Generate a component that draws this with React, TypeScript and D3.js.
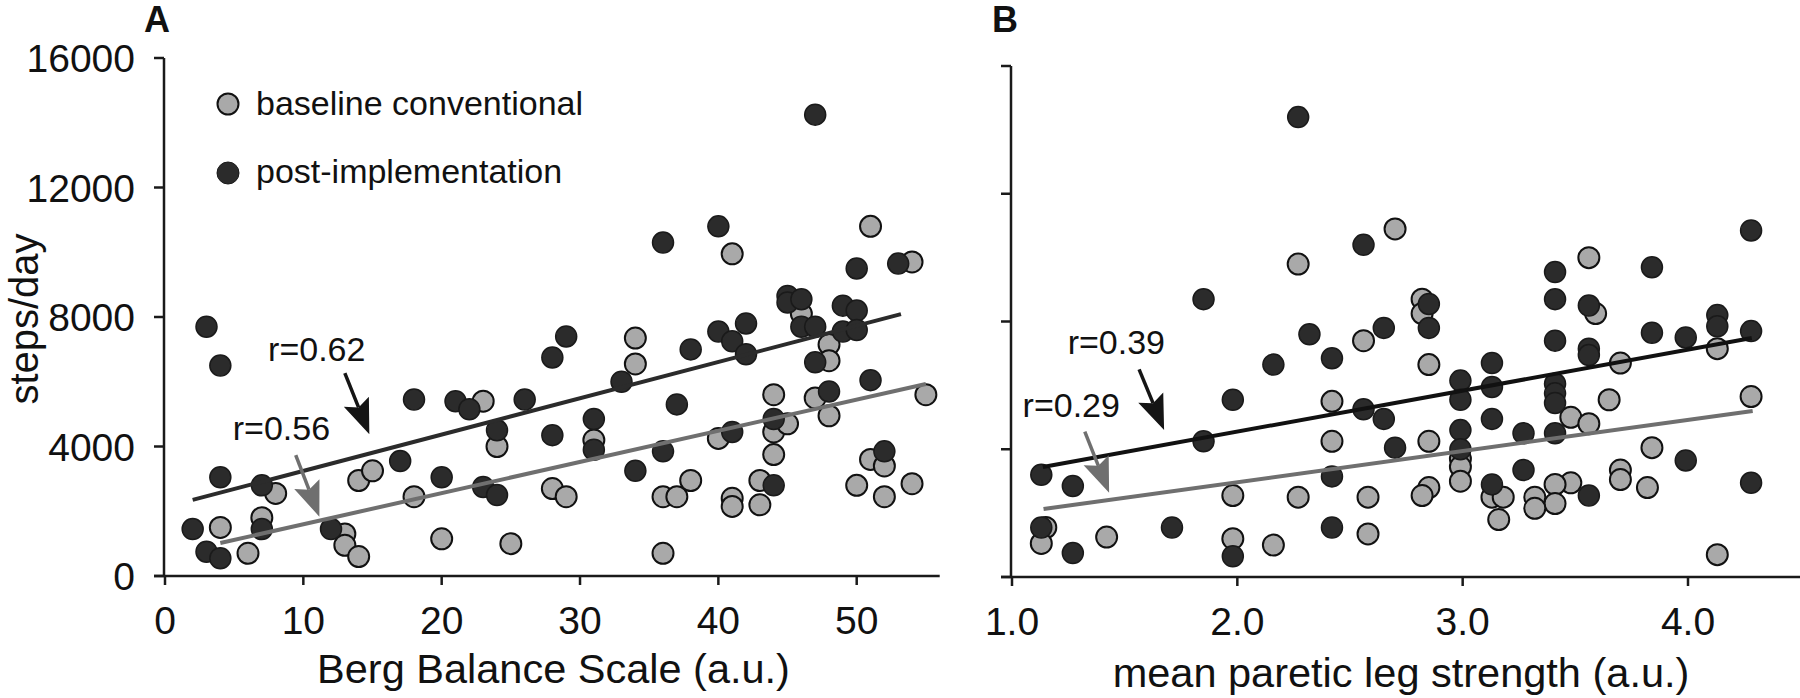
import React from 'react';
import * as d3 from 'd3';

// ---------- DATA ----------
// Panel A: Berg Balance Scale (a.u.) vs steps/day
const bergBaseline: [number, number][] = [
  [23, 5400], [24, 4000], [8, 2550], [14, 2950], [15, 3250], [18, 2450], [28, 2700], [4, 1500],
  [7, 1800], [6, 700], [13, 1300], [13, 950], [14, 600], [20, 1150], [25, 1000],
  [46, 8100], [54, 9700], [51, 10800], [48, 7150], [48, 6650], [55, 5600], [44, 5600], [47, 5500],
  [48, 4950], [44, 4450], [45, 4700], [44, 3750], [40, 4250], [34, 7350], [34, 6550], [41, 9950],
  [31, 4200], [29, 2450], [36, 2450], [37, 2450], [38, 2950], [41, 2400], [41, 2150], [43, 2950],
  [43, 2200], [36, 700], [51, 3600], [52, 3400], [50, 2800], [52, 2450], [54, 2850],
];
const bergPost: [number, number][] = [
  [3, 7700], [4, 6500], [18, 5450], [21, 5400], [22, 5150], [26, 5450], [28, 6750], [24, 4500],
  [28, 4350], [4, 3050], [7, 2800], [17, 3550], [20, 3050], [23, 2750], [24, 2500], [2, 1450],
  [7, 1450], [3, 750], [4, 550], [12, 1450],
  [29, 7400], [33, 6000], [31, 4850], [31, 3900], [36, 10300], [40, 10800], [38, 7000], [40, 7550],
  [41, 7250], [42, 7800], [42, 6850], [37, 5300], [36, 3850], [34, 3250], [41, 4450], [45, 8650],
  [45, 8450], [46, 8550], [46, 7700], [47, 7700], [49, 8350], [50, 8200], [49, 7550], [50, 7600],
  [50, 9500], [53, 9650], [47, 6600], [51, 6050], [48, 5700], [44, 4850], [44, 2800], [52, 3850],
  [47, 14250],
];
const bergFitPost: [number, number][] = [[2, 2350], [53.2, 8090]];
const bergFitBaseline: [number, number][] = [[4, 1020], [55, 5930]];

// Panel B: mean paretic leg strength (a.u.) vs steps/day
const legBaseline: [number, number][] = [
  [2.70, 10900], [2.27, 9800], [2.56, 7400], [2.42, 5500], [2.42, 4250], [1.98, 2550], [2.27, 2500],
  [2.58, 2500], [1.15, 1550], [1.13, 1050], [1.42, 1250], [1.98, 1200], [2.16, 1000], [2.58, 1350],
  [3.56, 10000], [2.82, 8700], [2.82, 8250], [3.59, 8250], [4.13, 7150], [3.70, 6700], [2.85, 6650],
  [3.65, 5550], [4.28, 5650], [3.48, 5000], [3.56, 4800], [2.85, 4250], [2.99, 3700], [2.99, 3450],
  [2.99, 3000], [2.85, 2800], [2.82, 2550], [3.84, 4050], [3.70, 3350], [3.70, 3050], [3.82, 2800],
  [3.48, 2950], [3.41, 2900], [3.41, 2300], [3.32, 2500], [3.32, 2150], [3.13, 2500], [3.18, 2500],
  [3.16, 1800], [4.13, 700],
];
const legPost: [number, number][] = [
  [1.85, 8700], [2.56, 10400], [2.32, 7600], [2.65, 7800], [2.42, 6850], [2.16, 6650], [1.98, 5550],
  [2.56, 5250], [2.65, 4950], [1.85, 4250], [2.70, 4050], [1.13, 3200], [1.27, 2850], [2.42, 3150],
  [1.13, 1550], [1.27, 750], [1.71, 1550], [1.98, 650], [2.42, 1550], [2.27, 14400],
  [4.28, 10850], [3.84, 9700], [3.41, 9550], [3.41, 8700], [3.56, 8500], [2.85, 8550], [2.85, 7800],
  [3.41, 7400], [3.84, 7650], [3.99, 7500], [4.13, 8200], [4.13, 7850], [4.28, 7700], [3.56, 7150],
  [3.56, 6950], [3.13, 6700], [2.99, 6150], [3.13, 5950], [2.99, 5550], [3.41, 6050], [3.41, 5750],
  [3.41, 5450], [3.13, 4950], [2.99, 4600], [3.27, 4500], [3.41, 4500], [2.99, 4000], [3.27, 3350],
  [3.99, 3650], [4.28, 2950], [3.13, 2900], [3.56, 2550],
];
const legFitPost: [number, number][] = [[1.137, 3444], [4.283, 7483]];
const legFitBaseline: [number, number][] = [[1.14, 2129], [4.287, 5198]];

// Tick values and labels
const yTickValues = [0, 4000, 8000, 12000, 16000];
const yTickLabels = ['0', '4000', '8000', '12000', '16000'];
const bergTickValues = [0, 10, 20, 30, 40, 50];
const bergTickLabels = ['0', '10', '20', '30', '40', '50'];
const legTickValues = [1, 2, 3, 4];
const legTickLabels = ['1.0', '2.0', '3.0', '4.0'];

// Correlation annotations: label anchor, arrow start, arrow tip (data units)
const bergAnnotations = [
  { text: 'r=0.62', label: [7.45, 6639], from: [13.0, 6269], to: [14.77, 4376], dark: true },
  { text: 'r=0.56', label: [4.9, 4200], from: [9.45, 3736], to: [11.16, 1831], dark: false },
];
const legAnnotations = [
  { text: 'r=0.39', label: [1.247, 6982], from: [1.564, 6503], to: [1.675, 4603], dark: true },
  { text: 'r=0.29', label: [1.047, 5019], from: [1.323, 4549], to: [1.431, 2639], dark: false },
];

const legendItems = ['baseline conventional', 'post-implementation'];

// ---------- STYLE ----------
const FONT = '"Liberation Sans", Arial, Helvetica, sans-serif';
const GRAY_FILL = '#a9a9a9';
const DARK_FILL = '#2b2b2b';
const OUTLINE = '#111';
const AXIS = '#1a1a1a';
const R = 10.5;

function Arrow({ x1, y1, x2, y2, color }: { x1: number; y1: number; x2: number; y2: number; color: string }) {
  const dx = x2 - x1, dy = y2 - y1;
  const len = Math.hypot(dx, dy);
  const ux = dx / len, uy = dy / len;
  const headLen = 35, halfW = 13.5;
  const bx = x2 - ux * headLen, by = y2 - uy * headLen;
  const px = -uy, py = ux;
  const notch = 6;
  const nx = bx + ux * notch, ny = by + uy * notch;
  return (
    <g>
      <line x1={x1} y1={y1} x2={nx} y2={ny} stroke={color} strokeWidth={3.5} />
      <path
        d={`M${x2},${y2} L${bx + px * halfW},${by + py * halfW} L${nx},${ny} L${bx - px * halfW},${by - py * halfW} Z`}
        fill={color}
      />
    </g>
  );
}

type PanelProps = {
  x: d3.ScaleLinear<number, number>;
  y: d3.ScaleLinear<number, number>;
  xMax: number;
  xTicks: number[];
  xLabels: string[];
  showYLabels: boolean;
  baseline: [number, number][];
  post: [number, number][];
  fitPost: [number, number][];
  fitBase: [number, number][];
  annotations: typeof bergAnnotations;
  title: string;
  titleX: number;
  titleY: number;
  postLineColor: string;
};

function Panel(p: PanelProps) {
  const { x, y } = p;
  const x0 = x.range()[0] - 1;
  const xEnd = x(p.xMax);
  const yBottom = y(0);
  const yTop = y(16000);
  const line = d3.line<[number, number]>().x((d) => x(d[0])).y((d) => y(d[1]));
  return (
    <g>
      {/* axes */}
      <line x1={x0} y1={yTop} x2={x0} y2={yBottom + 1} stroke={AXIS} strokeWidth={2.5} />
      <line x1={x0 - 10} y1={yBottom} x2={xEnd} y2={yBottom} stroke={AXIS} strokeWidth={2.5} />
      {yTickValues.map((v, i) => (
        <g key={'yt' + i}>
          <line x1={x0 - 10} x2={x0} y1={y(v)} y2={y(v)} stroke={AXIS} strokeWidth={2.5} />
          {p.showYLabels && (
            <text x={x0 - 29} y={y(v)} dy="0.36em" textAnchor="end" fontSize={39} fontFamily={FONT} fill="#111">
              {yTickLabels[i]}
            </text>
          )}
        </g>
      ))}
      {p.xTicks.map((v, i) => (
        <g key={'xt' + i}>
          <line x1={x(v)} x2={x(v)} y1={yBottom} y2={yBottom + 9} stroke={AXIS} strokeWidth={2.5} />
          <text x={x(v)} y={yBottom + 58} textAnchor="middle" fontSize={39} fontFamily={FONT} fill="#111">
            {p.xLabels[i]}
          </text>
        </g>
      ))}
      <text x={p.titleX} y={p.titleY} textAnchor="middle" fontSize={41.5} fontFamily={FONT} fill="#111">
        {p.title}
      </text>

      {/* points */}
      {p.baseline.map((d, i) => (
        <circle key={'b' + i} cx={x(d[0])} cy={y(d[1])} r={R} fill={GRAY_FILL} stroke={OUTLINE} strokeWidth={2} />
      ))}
      {p.post.map((d, i) => (
        <circle key={'p' + i} cx={x(d[0])} cy={y(d[1])} r={R} fill={DARK_FILL} stroke="#1a1a1a" strokeWidth={1.5} />
      ))}

      {/* regression lines */}
      <path d={line(p.fitBase) || ''} stroke="#6f6f6f" strokeWidth={4} fill="none" />
      <path d={line(p.fitPost) || ''} stroke={p.postLineColor} strokeWidth={4} fill="none" />

      {/* annotations */}
      {p.annotations.map((a, i) => (
        <g key={'a' + i}>
          <text x={x(a.label[0])} y={y(a.label[1])} fontSize={34} fontFamily={FONT} fill="#111">
            {a.text}
          </text>
          <Arrow
            x1={x(a.from[0])}
            y1={y(a.from[1])}
            x2={x(a.to[0])}
            y2={y(a.to[1])}
            color={a.dark ? '#151515' : '#6f6f6f'}
          />
        </g>
      ))}
    </g>
  );
}

export default function App() {
  const xA = d3.scaleLinear().domain([0, 50]).range([165, 856.7]);
  const yA = d3.scaleLinear().domain([0, 16000]).range([576, 58]);
  const xB = d3.scaleLinear().domain([1, 4]).range([1012, 1688]);
  const yB = d3.scaleLinear().domain([0, 16000]).range([577, 66]);

  return (
    <svg
      width={1800}
      height={698}
      viewBox="0 0 1800 698"
      style={{ position: 'absolute', left: 0, top: 0, background: '#fff' }}
    >
      <rect x={0} y={0} width={1800} height={698} fill="#fff" />
      <text x={144} y={32} fontSize={36} fontWeight="bold" fontFamily={FONT} fill="#111">A</text>
      <text x={992} y={32} fontSize={36} fontWeight="bold" fontFamily={FONT} fill="#111">B</text>

      <text
        transform={`translate(38, 319) rotate(-90)`}
        textAnchor="middle"
        fontSize={40}
        fontFamily={FONT}
        fill="#111"
      >
        steps/day
      </text>

      <Panel
        x={xA}
        y={yA}
        xMax={56}
        xTicks={bergTickValues}
        xLabels={bergTickLabels}
        showYLabels={true}
        baseline={bergBaseline}
        post={bergPost}
        fitPost={bergFitPost}
        fitBase={bergFitBaseline}
        annotations={bergAnnotations}
        title="Berg Balance Scale (a.u.)"
        titleX={553.5}
        titleY={683}
        postLineColor="#2b2b2b"
      />
      <Panel
        x={xB}
        y={yB}
        xMax={4.5}
        xTicks={legTickValues}
        xLabels={legTickLabels}
        showYLabels={false}
        baseline={legBaseline}
        post={legPost}
        fitPost={legFitPost}
        fitBase={legFitBaseline}
        annotations={legAnnotations}
        title="mean paretic leg strength (a.u.)"
        titleX={1401}
        titleY={687}
        postLineColor="#111"
      />

      {/* legend */}
      {legendItems.map((t, i) => (
        <g key={'lg' + i}>
          <circle
            cx={228}
            cy={104 + i * 69}
            r={i === 0 ? 10.5 : 11}
            fill={i === 0 ? GRAY_FILL : DARK_FILL}
            stroke={i === 0 ? OUTLINE : '#1a1a1a'}
            strokeWidth={i === 0 ? 2 : 1}
          />
          <text x={256} y={115 + i * 68} fontSize={34} fontFamily={FONT} fill="#111">
            {t}
          </text>
        </g>
      ))}
    </svg>
  );
}
